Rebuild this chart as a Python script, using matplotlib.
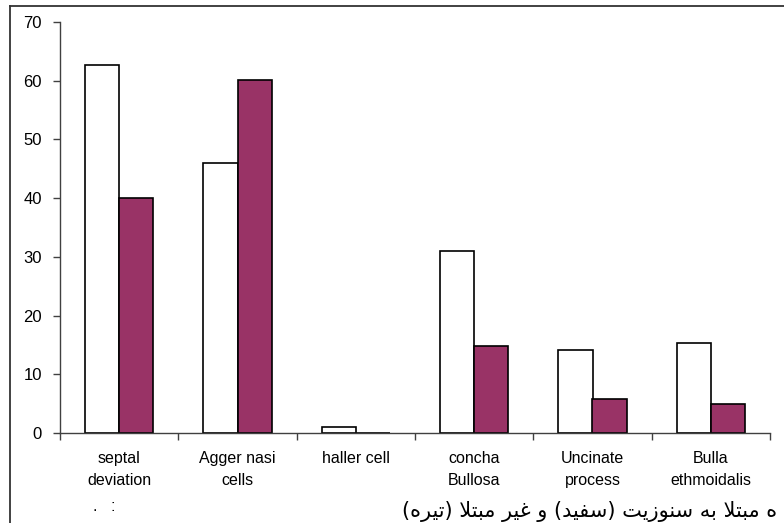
import matplotlib
matplotlib.use("Agg")
import matplotlib.pyplot as plt
from matplotlib.lines import Line2D
import numpy as np

categories = ["septal\ndeviation", "Agger nasi\ncells", "haller cell",
              "concha\nBullosa", "Uncinate\nprocess", "Bulla\nethmoidalis"]
white_vals = [62.7, 46.0, 1.0, 31.0, 14.1, 15.3]
dark_vals = [40.0, 60.2, 0.0, 14.8, 5.8, 4.9]
yticks = [0, 10, 20, 30, 40, 50, 60, 70]

# Persian caption "ه مبتلا به سنوزیت (سفید) و غیر مبتلا (تیره)"
# written as presentation-form glyphs in visual (left-to-right) order
mobtala = "\uFEFC\uFE98\uFE92\uFEE3"
be = "\uFEEA\uFE91"
sinusit = "\uFE96\uFEF3\uFEAF\uFEEE\uFEE8\uFEB3"
sefid = "\uFEAA\uFEF4\uFED4\uFEB3"
va = "\uFEED"
gheyr = "\uFEAE\uFEF4\uFECF"
tireh = "\uFEE9\uFEAE\uFEF4\uFE97"
heh = "\uFEE9"
caption = ("(" + tireh + ") " + mobtala + " " + gheyr + " " + va + " (" + sefid + ") "
           + sinusit + " " + be + " " + mobtala + " " + heh)

plt.rcParams['font.family'] = ['Liberation Sans', 'DejaVu Sans']

W, H = 784, 523
fig = plt.figure(figsize=(W / 100, H / 100), dpi=100)
ax = fig.add_axes([60 / W, 1 - 433 / H, (770 - 60) / W, (433 - 22) / H])

x = np.arange(len(categories))
w = 0.29
ax.bar(x - w / 2, white_vals, w, color="white", edgecolor="black", linewidth=1.2)
ax.bar(x + w / 2, dark_vals, w, color="#993366", edgecolor="black", linewidth=1.2)

ax.set_xlim(-0.5, len(categories) - 0.5)
ax.set_ylim(0, 70)
ax.set_yticks(yticks)
ax.set_xticks(np.arange(len(categories) + 1) - 0.5)
ax.set_xticklabels([])
ax.set_xticks(x, minor=True)
ax.set_xticklabels(categories, minor=True, fontsize=11.5, linespacing=1.6)
ax.tick_params(axis='x', which='minor', length=0, pad=13)
ax.tick_params(axis='x', which='major', length=5, width=1, color='#404040', direction='out')
ax.tick_params(axis='y', length=5, width=1, color='#404040', direction='out', labelsize=12, pad=8)

for s in ['top', 'right']:
    ax.spines[s].set_visible(False)
for s in ['left', 'bottom']:
    ax.spines[s].set_color('#404040')
    ax.spines[s].set_linewidth(1.0)

ax.text(-0.13, -0.178, ".   :", transform=ax.get_xaxis_transform(), ha='center',
        va='center', fontsize=11.5)

# outer frame (left and top edges visible)
fig.add_artist(Line2D([10 / W, 10 / W], [0, 1 - 6 / H], color='#333333', lw=1.3,
                      transform=fig.transFigure))
fig.add_artist(Line2D([10 / W, 1], [1 - 6 / H, 1 - 6 / H], color='#333333', lw=1.3,
                      transform=fig.transFigure))

fig.text(777 / W, 1 - 511 / H, caption, ha='right', va='center', fontsize=15,
         family=['DejaVu Sans'])

fig.savefig("out.png", dpi=100)
